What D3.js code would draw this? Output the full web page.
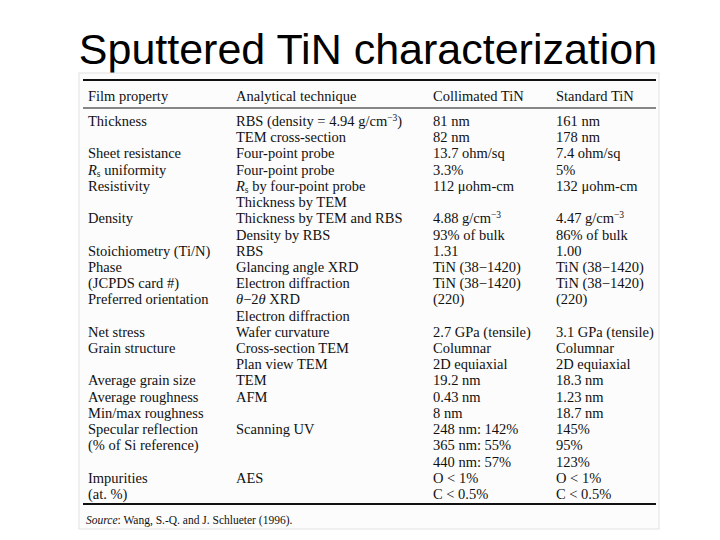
<!DOCTYPE html>
<html><head><meta charset="utf-8">
<script src="https://cdn.jsdelivr.net/npm/d3@7"></script>
<style>body{margin:0;background:#fff}</style></head>
<body><svg id="c" width="720" height="540"></svg>
<script>
const title = "Sputtered TiN characterization";
const headers = ["Film property","Analytical technique","Collimated TiN","Standard TiN"];
const properties = ["Thickness","","Sheet resistance","*R*~s~ uniformity","Resistivity","","Density","","Stoichiometry (Ti/N)","Phase","(JCPDS card #)","Preferred orientation","","Net stress","Grain structure","","Average grain size","Average roughness","Min/max roughness","Specular reflection","(% of Si reference)","","Impurities","(at. %)"];
const techniques = ["RBS (density = 4.94 g/cm^−3^)","TEM cross-section","Four-point probe","Four-point probe","*R*~s~ by four-point probe","Thickness by TEM","Thickness by TEM and RBS","Density by RBS","RBS","Glancing angle XRD","Electron diffraction","*θ*−2*θ* XRD","Electron diffraction","Wafer curvature","Cross-section TEM","Plan view TEM","TEM","AFM","","Scanning UV","","","AES",""];
const collimated = ["81 nm","82 nm","13.7 ohm/sq","3.3%","112 μohm-cm","","4.88 g/cm^−3^","93% of bulk","1.31","TiN (38−1420)","TiN (38−1420)","(220)","","2.7 GPa (tensile)","Columnar","2D equiaxial","19.2 nm","0.43 nm","8 nm","248 nm: 142%","365 nm: 55%","440 nm: 57%","O < 1%","C < 0.5%"];
const standard = ["161 nm","178 nm","7.4 ohm/sq","5%","132 μohm-cm","","4.47 g/cm^−3^","86% of bulk","1.00","TiN (38−1420)","TiN (38−1420)","(220)","","3.1 GPa (tensile)","Columnar","2D equiaxial","18.3 nm","1.23 nm","18.7 nm","145%","95%","123%","O < 1%","C < 0.5%"];
const source = "Source";
const sourceText = ": Wang, S.-Q. and J. Schlueter (1996).";

const svg = d3.select("#c");
svg.append("text").attr("x",368).attr("y",64).attr("text-anchor","middle")
  .attr("font-family","Liberation Sans, Arial").attr("font-size",43).attr("fill","#000").text(title);

svg.append("rect").attr("x",79).attr("y",73).attr("width",580).attr("height",456)
  .attr("fill","#fcfcfc").attr("stroke","#e2e2e2");

const colX = [88,236,433,556];
const y = d3.scaleLinear().domain([0,23]).range([122,495]);
const g = svg.append("g").attr("font-family","Liberation Serif, Times New Roman, serif").attr("font-size",14.5).attr("fill","#111");

function rich(sel, str){
  const re = /(\*[^*]+\*|\^[^^]+\^|~[^~]+~|[^*^~]+)/g;
  let m, pend = 0;
  while((m = re.exec(str))){
    const s = m[0];
    const t = sel.append("tspan");
    if(pend){ t.attr("dy",pend); pend = 0; }
    if(s[0]==="*"){ t.attr("font-style","italic").text(s.slice(1,-1)); }
    else if(s[0]==="^"){ t.attr("font-size",9.5).attr("dy",-5).text(s.slice(1,-1)); pend = 5; }
    else if(s[0]==="~"){ t.attr("font-size",9.5).attr("dy",2).text(s.slice(1,-1)); pend = -2; }
    else t.text(s);
  }
}

g.selectAll("text.h").data(headers).join("text").attr("class","h")
  .attr("x",(d,i)=>colX[i]).attr("y",101).text(d=>d);

svg.append("line").attr("x1",83).attr("x2",656).attr("y1",80).attr("y2",80).attr("stroke","#111").attr("stroke-width",2);
svg.append("line").attr("x1",83).attr("x2",656).attr("y1",108).attr("y2",108).attr("stroke","#111").attr("stroke-width",1);
svg.append("line").attr("x1",83).attr("x2",656).attr("y1",504).attr("y2",504).attr("stroke","#111").attr("stroke-width",2);

const cols = [properties, techniques, collimated, standard];
cols.forEach((arr,ci)=>{
  arr.forEach((s,ri)=>{
    if(!s) return;
    const t = g.append("text").attr("x",colX[ci]).attr("y",y(ri)+4);
    rich(t,s);
  });
});

const st = g.append("text").attr("x",86).attr("y",524).attr("font-size",11.5);
st.append("tspan").attr("font-style","italic").text(source);
st.append("tspan").text(sourceText);
</script></body></html>
